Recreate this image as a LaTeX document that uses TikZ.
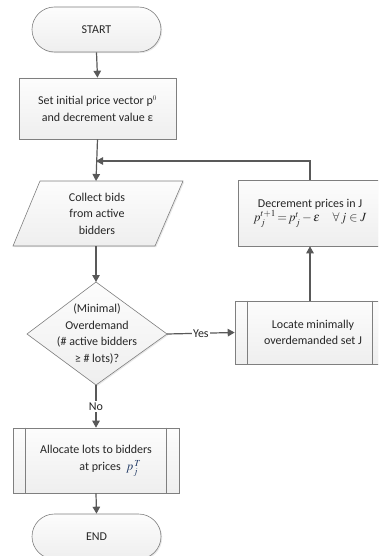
\documentclass[tikz,border=0pt]{standalone}
\usepackage{mathptmx}
\usepackage{fontspec}
\setmainfont{Carlito}
\usetikzlibrary{arrows.meta,shadows}
\definecolor{bordc}{HTML}{7F7F7F}
\definecolor{arrc}{HTML}{595959}
\definecolor{txtc}{HTML}{262626}
\definecolor{mathc}{HTML}{1F3864}
\tikzset{
  boxfill/.style={top color=gray!2, bottom color=gray!13, draw=bordc, line width=0.6pt,
    drop shadow={opacity=0.18, shadow xshift=1.2pt, shadow yshift=-1.2pt}},
  term/.style={boxfill, minimum width=129pt, minimum height=45pt, rounded corners=22.5pt, inner sep=0pt},
  procbox/.style={boxfill, inner sep=0pt, align=center},
  lbl/.style={font=\fontsize{12}{16.5}\selectfont, text=txtc, align=center},
  flow/.style={draw=arrc, line width=1.2pt, -{Triangle[length=7pt,width=7.5pt]}},
  plainline/.style={draw=arrc, line width=1.2pt},
  inner/.style={draw=bordc, line width=0.6pt}
}
\begin{document}
\begin{tikzpicture}[x=1pt,y=-1pt]
\useasboundingbox (0,0) rectangle (378,556);
\clip (0,0) rectangle (378,556);
% START
\node[term] (start) at (96.5,29.5) {};
\node[lbl] (starttxt) at (start.center) {START};
% Set initial
\node[procbox, minimum width=157pt, minimum height=61pt] (set) at (97.5,108.5) {};
\node[lbl] (settxt) at (set.center) {Set initial price vector p$^{\scriptscriptstyle 0}$\\and decrement value ε};
% Collect (parallelogram)
\coordinate (ptl) at (40,181);
\coordinate (ptr) at (183,181);
\coordinate (pbr) at (155,246);
\coordinate (pbl) at (13,246);
\path[boxfill] (ptl) -- (ptr) -- (pbr) -- (pbl) -- cycle;
\node[lbl] (collect) at (97,213.5) {Collect bids\\from active\\bidders};
\coordinate (ctop) at (96,181);
\coordinate (cbot) at (96,246);
% Decision diamond
\coordinate (dt) at (96,282);
\coordinate (dr) at (167,334);
\coordinate (db) at (96,385);
\coordinate (dl) at (27,334);
\path[boxfill] (dt) -- (dr) -- (db) -- (dl) -- cycle;
\node[lbl] (dec) at (97,334) {(Minimal)\\Overdemand\\(\# active bidders\\≥ \# lots)?};
% Decrement
\node[procbox, minimum width=144pt, minimum height=66pt] (decr) at (310,213) {};
\node[lbl] (decrtxt) at (decr.center) {Decrement prices in J\\[-2pt]{\fontsize{12.5}{14}\selectfont$p_j^{t+1}\!=\!p_j^{t}-\varepsilon\quad\forall\, j\in J$}};
% Locate
\node[procbox, minimum width=150pt, minimum height=63pt] (loc) at (310,332.5) {};
\draw[inner] ([xshift=13pt]loc.north west) -- ([xshift=13pt]loc.south west);
\draw[inner] ([xshift=-13pt]loc.north east) -- ([xshift=-13pt]loc.south east);
\node[lbl] (loctxt) at (313,332.5) {Locate minimally\\overdemanded set J};
% Allocate
\node[procbox, minimum width=166pt, minimum height=65pt] (alloc) at (96,460.5) {};
\draw[inner] ([xshift=13pt]alloc.north west) -- ([xshift=13pt]alloc.south west);
\draw[inner] ([xshift=-13pt]alloc.north east) -- ([xshift=-13pt]alloc.south east);
\node[lbl] (alloctxt) at (alloc.center) {Allocate lots to bidders\\[1pt]\hspace*{2.4em}at prices\ \ {\fontsize{12.5}{12}\selectfont$\color{mathc}p_j^{\,T}$}};
% END
\node[term] (end) at (96.5,536.5) {};
\node[lbl] (endtxt) at (end.center) {END};
% connectors
\draw[flow] (start.south) -- (set.north);
\coordinate (merge) at (96,161);
\draw[flow] (set.south) -- (ctop);
\draw[plainline] (decr.north) -- (310,161) -- (98,161);
\draw[flow] (310,161) -- (merge);
\draw[flow] (cbot) -- (dt);
\draw[flow] (dr) -- node[lbl, fill=white, inner sep=1pt] (yes) {Yes} (loc.west);
\draw[flow] (loc.north) -- (decr.south);
\draw[flow] (db) -- node[lbl, fill=white, inner sep=1.5pt] (no) {No} (alloc.north);
\draw[flow] (alloc.south) -- (end.north);
\end{tikzpicture}
\end{document}
